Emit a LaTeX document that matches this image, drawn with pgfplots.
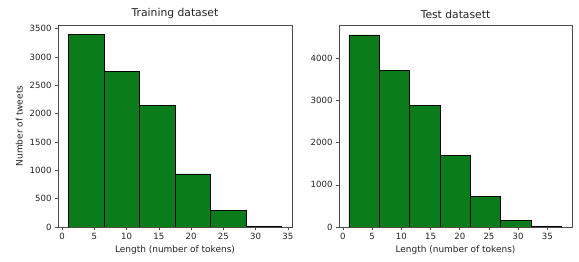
\documentclass[border=0pt]{standalone}
\usepackage{pgfplots}
\pgfplotsset{compat=1.18}
\usepackage{fontspec}
\setmainfont{DejaVu Sans}
\definecolor{mplgreen}{RGB}{10,125,26}
\definecolor{txt}{RGB}{35,35,35}
\begin{document}
\begin{tikzpicture}
\path[use as bounding box] (0,0) rectangle (579bp,262bp);
\pgfplotsset{
  every axis/.style={
    scale only axis,
    anchor=south west,
    height=202bp,
    ymin=0,
    axis line style={black!70, line width=0.6pt},
    tick style={black!70, line width=0.6pt},
    tick align=outside,
    major tick length=3bp,
    xtick pos=bottom, ytick pos=left,
    ticklabel style={font=\fontsize{8.6}{10}\selectfont, text=txt},
    label style={font=\fontsize{9}{10}\selectfont, text=txt},
    title style={font=\fontsize{10.8}{12}\selectfont, text=txt, yshift=-3bp},
    /pgf/number format/assume math mode=true,
    scaled y ticks=false,
    y tick label style={/pgf/number format/.cd, 1000 sep={}},
    xlabel={Length (number of tokens)},
    xlabel style={yshift=1bp},
  },
}
\begin{axis}[at={(58bp,35bp)}, width=234bp,
  xmin=-0.65, xmax=35.65, ymax=3564,
  xtick={0,5,...,35}, ytick={0,500,...,3500},
  title={Training dataset}, ylabel={Number of tweets}]
\addplot[ybar interval, fill=mplgreen, draw=black, line width=0.6pt] coordinates {
(1,3394) (6.5,2750) (12,2142) (17.5,938) (23,295) (28.5,15) (34,15)};
\end{axis}
\begin{axis}[at={(339bp,35bp)}, width=233bp,
  xmin=-0.68, xmax=39.22, ymax=4790,
  xtick={0,5,...,35}, ytick={0,1000,...,4000},
  title={Test datasett}]
\addplot[ybar interval, fill=mplgreen, draw=black, line width=0.6pt] coordinates {
(1,4554) (6.2,3709) (11.4,2880) (16.6,1697) (21.8,726) (27,151) (32.2,20) (37.4,20)};
\end{axis}
\end{tikzpicture}
\end{document}
